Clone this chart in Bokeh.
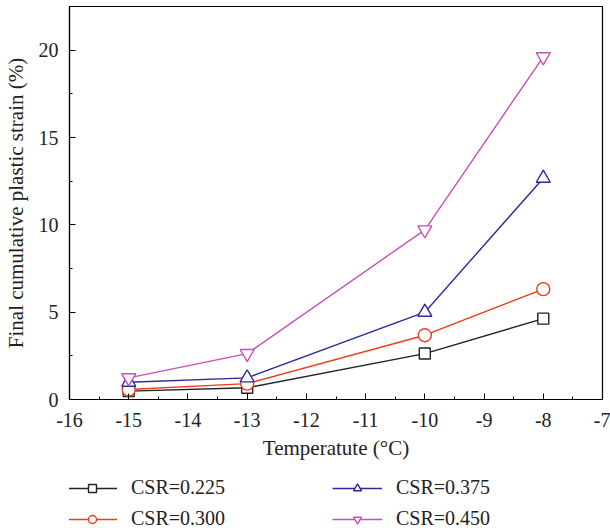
from bokeh.plotting import figure
from bokeh.models import FixedTicker, Legend, LegendItem, Range1d
from bokeh.layouts import column
from bokeh.embed import file_html
from bokeh.resources import INLINE

temps = [-15, -13, -10, -8]
csr_225 = [0.48, 0.67, 2.63, 4.63]
csr_300 = [0.57, 0.91, 3.68, 6.32]
csr_375 = [0.99, 1.24, 5.0, 12.67]
csr_450 = [1.24, 2.63, 9.71, 19.62]
labels = ["CSR=0.225", "CSR=0.300", "CSR=0.375", "CSR=0.450"]
x_ticks = [-16, -15, -14, -13, -12, -11, -10, -9, -8, -7]
y_ticks = [0, 5, 10, 15, 20]

FONT = "Liberation Serif"

p = figure(width=610, height=465, output_backend="svg", toolbar_location=None,
           x_range=Range1d(-16, -7), y_range=Range1d(0, 22.5))
p.min_border_left = 68
p.min_border_right = 8
p.min_border_top = 6
p.min_border_bottom = 66
p.outline_line_color = "black"
p.outline_line_width = 1.2
p.xgrid.visible = False
p.ygrid.visible = False

p.xaxis.ticker = FixedTicker(ticks=x_ticks, minor_ticks=[t + 0.5 for t in x_ticks[:-1]])
p.yaxis.ticker = FixedTicker(ticks=y_ticks, minor_ticks=[2.5, 7.5, 12.5, 17.5, 22.5])
p.xaxis.major_label_overrides = {t: str(t) for t in x_ticks}
for ax in (p.xaxis, p.yaxis):
    ax.major_tick_in = 6
    ax.major_tick_out = 0
    ax.minor_tick_in = 3
    ax.minor_tick_out = 0
    ax.axis_line_color = "black"
    ax.axis_line_width = 1.2
    ax.major_tick_line_color = "black"
    ax.minor_tick_line_color = "black"
    ax.major_label_text_font = FONT
    ax.major_label_text_font_size = "20px"
    ax.major_label_text_color = "#222222"
    ax.axis_label_text_font = FONT
    ax.axis_label_text_font_size = "21px"
    ax.axis_label_text_font_style = "normal"
    ax.axis_label_text_color = "#222222"
p.xaxis.axis_label = "Temperatute (°C)"
p.yaxis.axis_label = "Final cumulative plastic strain (%)"
p.xaxis.major_label_standoff = 13
p.xaxis.axis_label_standoff = 6
p.yaxis.major_label_standoff = 11
p.yaxis.axis_label_standoff = 8

series = [
    (csr_225, "#222222", "square", 11, 7),
    (csr_300, "#f03c1e", "circle", 13, 9),
    (csr_375, "#2e2a96", "triangle", 14, 9),
    (csr_450, "#c84fb8", "inverted_triangle", 14, 9),
]

# legend-only strip below the plot; its glyphs lie outside its ranges
lg = figure(width=610, height=66, output_backend="svg", toolbar_location=None,
            x_range=Range1d(0, 1), y_range=Range1d(0, 1),
            x_axis_location=None, y_axis_location=None)
lg.grid.visible = False
lg.outline_line_color = None
lg.min_border_left = 0
lg.min_border_right = 0
lg.min_border_top = 0
lg.min_border_bottom = 0

items = []
for (vals, color, marker, size, lsize), lab in zip(series, labels):
    p.line(temps, vals, line_color=color, line_width=1.4)
    p.scatter(temps, vals, marker=marker, size=size, line_color=color,
              fill_color="white", line_width=1.4)
    l = lg.line(temps, vals, line_color=color, line_width=1.4)
    s = lg.scatter(temps, vals, marker=marker, size=lsize, line_color=color,
                   fill_color="white", line_width=1.4)
    items.append(LegendItem(label=lab, renderers=[l, s]))

legend = Legend(items=items, nrows=2)
legend.label_text_font = FONT
legend.label_text_font_size = "20px"
legend.label_text_color = "#222222"
legend.glyph_width = 50
legend.glyph_height = 20
legend.label_standoff = 14
legend.label_width = 193
legend.spacing = 8
legend.padding = 0
legend.margin = 0
legend.border_line_color = None
legend.background_fill_alpha = 0
legend.location = (-2, 1)
lg.add_layout(legend, "center")

layout = column(p, lg, spacing=0)
open("out.html", "w").write(file_html(layout, INLINE))
